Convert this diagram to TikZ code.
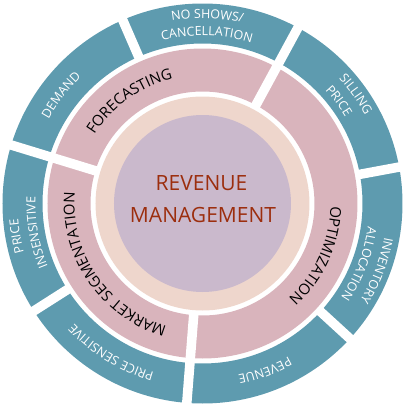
\documentclass[tikz,border=0pt]{standalone}
\usepackage{fontspec}
\setmainfont{Open Sans}
\usetikzlibrary{decorations.text}
\definecolor{tealring}{RGB}{94,155,175}
\definecolor{pinkring}{RGB}{217,180,188}
\definecolor{peachring}{RGB}{238,214,204}
\definecolor{purplecore}{RGB}{202,185,204}
\definecolor{coretext}{RGB}{156,46,14}
\tikzset{
  tealchar/.style={font=\fontsize{12.5}{12.5}\selectfont,text=white,inner sep=0pt},
  pinkchar/.style={font=\fontsize{15}{15}\selectfont,text=black,inner sep=0pt},
  gapline/.style={white,line width=9.5pt},
  coretxt/.style={anchor=base,text=coretext,font=\fontsize{21}{21}\selectfont,inner sep=0pt}}
% character style, centre angle, radius, half span, text (clockwise, centred)
\newcommand{\ringtext}[5]{%
  \path[decorate,decoration={text effects along path,text={#5},text align=center,
    text effects/.cd,text along path,characters={#1}}]
    ({#2+#4}:#3pt) arc[start angle={#2+#4}, end angle={#2-#4}, radius=#3pt];}
\begin{document}
\begin{tikzpicture}[x=1pt,y=1pt]
\useasboundingbox (-202.5,-201.5) rectangle (200.5,203.5);
% rings
\fill[tealring,even odd rule] (0,0) circle[radius=200pt] circle[radius=160pt];
\fill[pinkring,even odd rule] (0,0) circle[radius=155pt] circle[radius=112pt];
\fill[peachring] (0,0) circle[radius=107pt];
\fill[purplecore] (0,0) circle[radius=88.5pt];
% gaps in both rings
\foreach \a in {61.5,163,265.5}
  \draw[gapline] (\a:109pt) -- (\a:204pt);
% gaps in the outer ring only
\foreach \a in {10.5,113.5,212.5,317.5}
  \draw[gapline] (\a:157pt) -- (\a:204pt);
% outer ring labels
\ringtext{tealchar}{142.5}{175.5}{45}{DEMAND}
\ringtext{tealchar}{88.5}{185}{45}{NO SHOWS/}
\ringtext{tealchar}{88.5}{168}{45}{CANCELLATION}
\ringtext{tealchar}{35.5}{185}{45}{SILLING}
\ringtext{tealchar}{37}{167}{45}{PRICE}
\ringtext{tealchar}{-21}{185}{45}{INVENTORY}
\ringtext{tealchar}{-21}{167}{45}{ALLOCATION}
\ringtext{tealchar}{-69.5}{175.5}{45}{PEVENUE}
\ringtext{tealchar}{238.5}{175.5}{45}{PRICE SENSITIVE}
\ringtext{tealchar}{190}{185}{45}{PRICE}
\ringtext{tealchar}{190}{167}{45}{INSENSITIVE}
% middle ring labels
\ringtext{pinkchar}{125.5}{128}{60}{FORECASTING}
\ringtext{pinkchar}{214.5}{128}{70}{MARKET SEGMENTATION}
\ringtext{pinkchar}{-24.5}{128}{60}{OPTIMIZATION}
% centre
\node[coretxt] (rev) at (-1,13.5) {REVENUE};
\node[coretxt] (man) at (0.5,-18.5) {MANAGEMENT};
\end{tikzpicture}
\end{document}
